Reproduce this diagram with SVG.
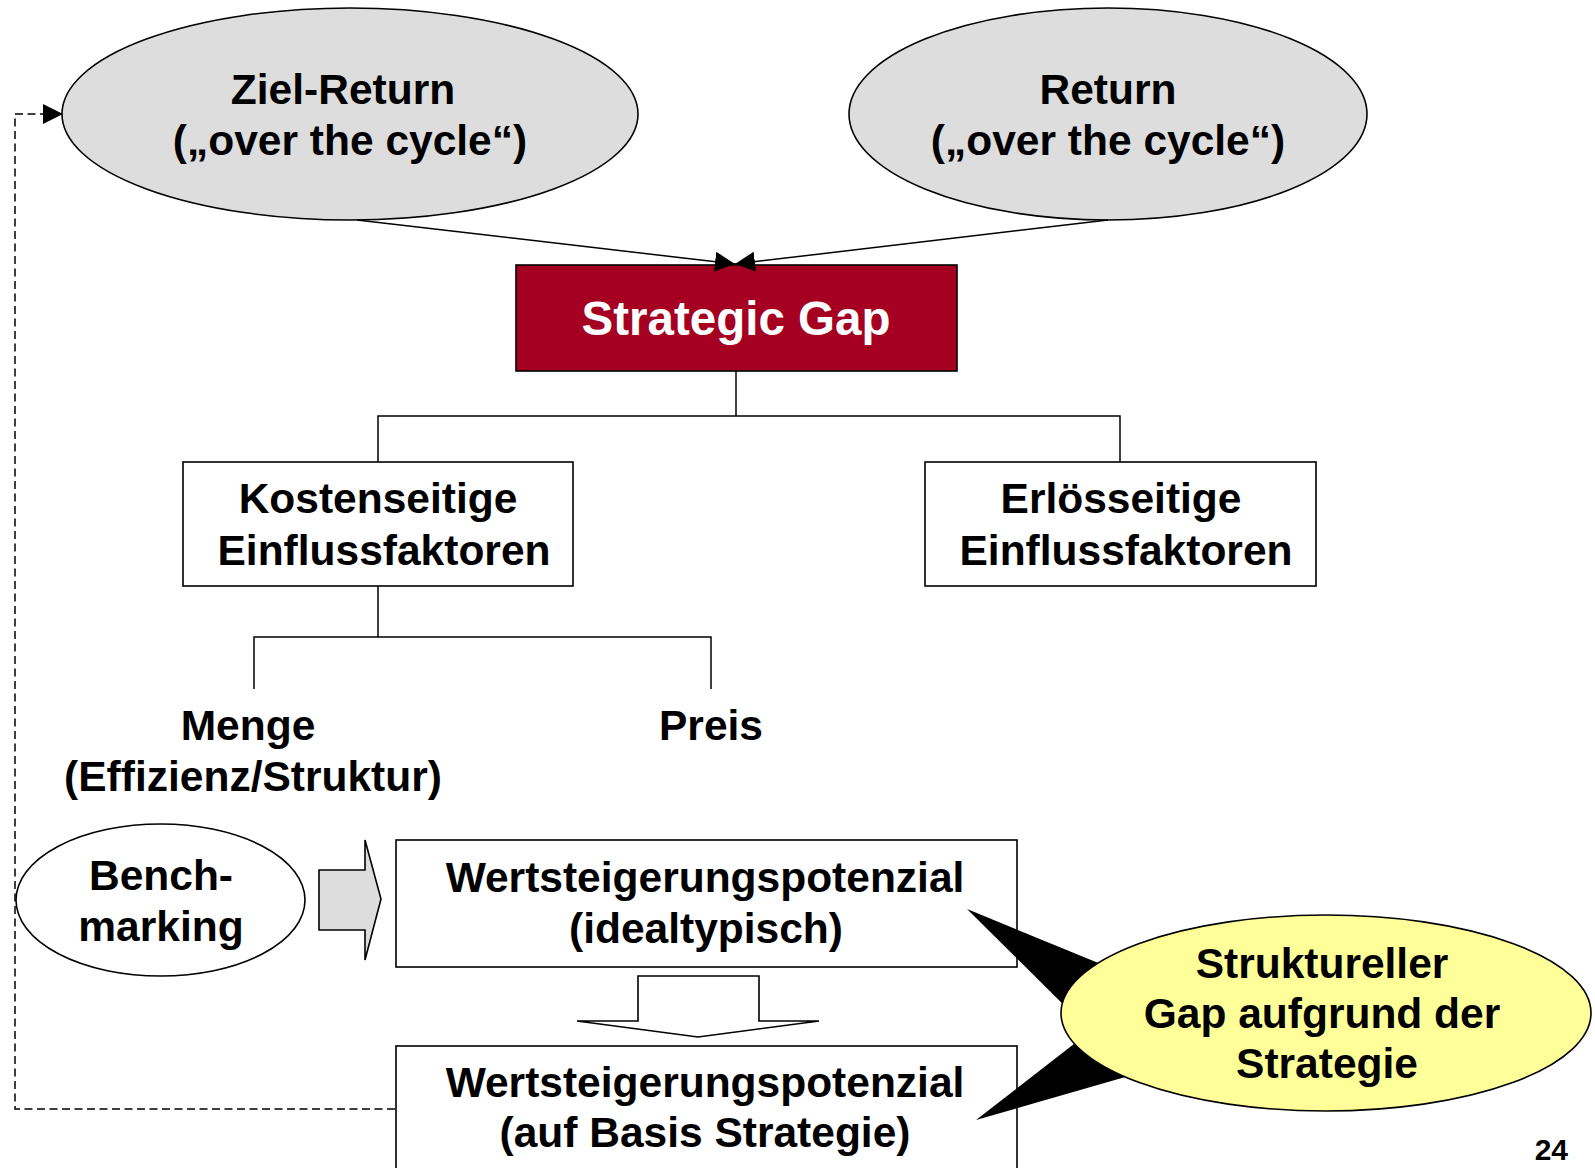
<svg xmlns="http://www.w3.org/2000/svg" width="1595" height="1168" viewBox="0 0 1595 1168">
  <defs>
    <marker id="head" viewBox="0 0 20 20" refX="20" refY="10" markerWidth="20" markerHeight="20" markerUnits="userSpaceOnUse" orient="auto">
      <path d="M0,0 L20,10 L0,20 Z" fill="#000"/>
    </marker>
    <style>
      .lbl { font-family: "Liberation Sans", Arial, sans-serif; font-weight: bold; font-size: 42.5px; fill: #000; text-anchor: middle; }
      .gray { fill: #DDDDDD; stroke: #000; stroke-width: 1.6; }
      .box { fill: #FFFFFF; stroke: #000; stroke-width: 1.6; }
      .wire { fill: none; stroke: #000; stroke-width: 1.5; }
      .dash { fill: none; stroke: #000; stroke-width: 1.5; stroke-dasharray: 8 4.5; }
    </style>
  </defs>
  <rect width="1595" height="1168" fill="#FFFFFF"/>

  <g id="ziel-return">
    <ellipse class="gray" cx="350" cy="114" rx="288" ry="106"/>
    <text class="lbl" x="343" y="104">Ziel-Return</text>
    <text class="lbl" x="350" y="155">(„over the cycle“)</text>
  </g>

  <g id="return">
    <ellipse class="gray" cx="1108" cy="114" rx="259" ry="106"/>
    <text class="lbl" x="1108" y="104">Return</text>
    <text class="lbl" x="1108" y="155">(„over the cycle“)</text>
  </g>

  <g id="strategic-gap">
    <rect x="516" y="265" width="441" height="106" fill="#A50021" stroke="#000" stroke-width="1.6"/>
    <text class="lbl" x="736" y="335" style="font-size:47.5px;fill:#FFFFFF">Strategic Gap</text>
  </g>

  <g id="kostenseitig">
    <rect class="box" x="183" y="462" width="390" height="124"/>
    <text class="lbl" x="378" y="513">Kostenseitige</text>
    <text class="lbl" x="384" y="565">Einflussfaktoren</text>
  </g>

  <g id="erloesseitig">
    <rect class="box" x="925" y="462" width="391" height="124"/>
    <text class="lbl" x="1121" y="513">Erlösseitige</text>
    <text class="lbl" x="1126" y="565">Einflussfaktoren</text>
  </g>

  <g id="menge">
    <text class="lbl" x="248" y="740">Menge</text>
    <text class="lbl" x="253" y="791">(Effizienz/Struktur)</text>
  </g>

  <g id="preis">
    <text class="lbl" x="711" y="740">Preis</text>
  </g>

  <g id="benchmarking">
    <ellipse class="box" cx="160.5" cy="900" rx="144.5" ry="76"/>
    <text class="lbl" x="161" y="890">Bench-</text>
    <text class="lbl" x="161" y="941">marking</text>
  </g>

  <!-- block arrow: benchmarking feeds the ideal potential -->
  <g id="arrow-right">
    <polygon class="gray" points="319,870 365,870 365,840 381,899 365,960 365,930 319,930"/>
  </g>

  <g id="potenzial-ideal">
    <rect class="box" x="396" y="840" width="621" height="127"/>
    <text class="lbl" x="705" y="892">Wertsteigerungspotenzial</text>
    <text class="lbl" x="706" y="943">(idealtypisch)</text>
  </g>

  <!-- block arrow: ideal potential down to strategy-based potential -->
  <g id="arrow-down">
    <polygon class="box" points="638,976 759,976 759,1021 819,1021 698,1037 577,1021 638,1021"/>
  </g>

  <g id="potenzial-strategie">
    <rect class="box" x="396" y="1046" width="621" height="140"/>
    <text class="lbl" x="705" y="1097">Wertsteigerungspotenzial</text>
    <text class="lbl" x="705" y="1147">(auf Basis Strategie)</text>
  </g>

  <g id="struktureller-gap">
    <polygon points="967,909 1130,976 1090,1031" fill="#000"/>
    <polygon points="976,1120 1110,1016 1160,1067" fill="#000"/>
    <ellipse cx="1326" cy="1013" rx="265" ry="98" fill="#FFFF99" stroke="#000" stroke-width="1.6"/>
    <text class="lbl" x="1322" y="978">Struktureller</text>
    <text class="lbl" x="1322" y="1028">Gap aufgrund der</text>
    <text class="lbl" x="1327" y="1078">Strategie</text>
  </g>

  <!-- connectors, drawn last so the arrowheads sit on top of the boxes -->
  <g id="connectors">
    <line class="wire" x1="357" y1="220" x2="735" y2="264" marker-end="url(#head)"/>
    <line class="wire" x1="1108" y1="220" x2="735" y2="264" marker-end="url(#head)"/>
    <path class="wire" d="M736,371 V416 M378,462 V416 H1120 V462"/>
    <path class="wire" d="M378,586 V637 M254,689 V637 H711 V689"/>
    <path class="dash" d="M395,1109 H15 V114 H63" marker-end="url(#head)"/>
  </g>

  <text class="lbl" x="1568" y="1160" style="font-size:30px;text-anchor:end">24</text>
</svg>
